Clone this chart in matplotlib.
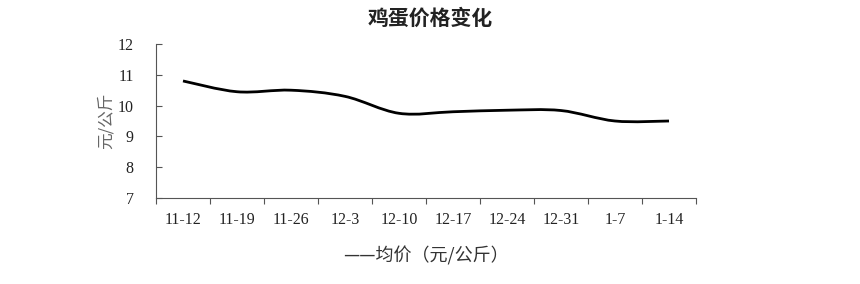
import matplotlib
matplotlib.use('Agg')
import numpy as np
import matplotlib.pyplot as plt
from matplotlib.path import Path
from matplotlib.patches import PathPatch

# data
dates = ['11-12', '11-19', '11-26', '12-3', '12-10', '12-17', '12-24', '12-31', '1-7', '1-14']
prices = [10.8, 10.45, 10.5, 10.3, 9.75, 9.8, 9.85, 9.84, 9.5, 9.5]

title = '鸡蛋价格变化'
y_label = '元/公斤'
series_label = '——均价（元/公斤）'

cjk = ['Noto Sans CJK SC', 'DejaVu Sans']
serif = ['Liberation Serif', 'DejaVu Serif']


def smooth_path(x, y):
    # Excel-style smoothed line: cubic Bezier segments (Catmull-Rom tangents)
    x = np.asarray(x, float)
    y = np.asarray(y, float)
    n = len(x)
    verts = [(x[0], y[0])]
    codes = [Path.MOVETO]
    for i in range(n - 1):
        p0 = i - 1 if i > 0 else i
        p3 = i + 2 if i + 2 < n else i + 1
        c1 = (x[i] + (x[i + 1] - x[p0]) / 6, y[i] + (y[i + 1] - y[p0]) / 6)
        c2 = (x[i + 1] - (x[p3] - x[i]) / 6, y[i + 1] - (y[p3] - y[i]) / 6)
        verts += [c1, c2, (x[i + 1], y[i + 1])]
        codes += [Path.CURVE4] * 3
    return Path(verts, codes)


fig = plt.figure(figsize=(8.6, 2.84), dpi=100)
ax = fig.add_axes([156 / 860, 1 - 198 / 284, 540 / 860, 154 / 284])

xs = np.arange(len(dates))
ax.add_patch(PathPatch(smooth_path(xs, prices), facecolor='none',
                       edgecolor='black', lw=2.0, capstyle='butt'))

ax.set_xlim(-0.5, len(dates) - 0.5)
ax.set_ylim(7, 12)
ax.set_yticks(range(7, 13))
ax.set_xticks(xs)
ax.set_xticklabels(dates, family=serif, fontsize=11.5, color='#222222')
ax.set_xticks(np.arange(-0.5, len(dates)), minor=True)
ax.tick_params(axis='x', which='major', length=0, pad=10)
ax.tick_params(axis='x', which='minor', length=4, color='#555555', width=0.8)
ax.tick_params(axis='y', direction='in', length=4, color='#555555', width=0.8, pad=16)
for lab in ax.get_yticklabels():
    lab.set_family(serif)
    lab.set_fontsize(11.5)
    lab.set_color('#222222')

for side in ['top', 'right']:
    ax.spines[side].set_visible(False)
for side in ['left', 'bottom']:
    ax.spines[side].set_color('#555555')
    ax.spines[side].set_linewidth(0.8)

ax.set_ylabel(y_label, family=cjk, fontsize=12, color='#666666', labelpad=2)

fig.text(0.5, 1 - 18 / 284, title, family=cjk, fontsize=15, fontweight='bold',
         ha='center', va='center', color='#222222')
fig.text(426 / 860, 1 - 256 / 284, series_label, family=cjk, fontsize=13,
         ha='center', va='center', color='#333333')

fig.savefig('out.png', dpi=100)
